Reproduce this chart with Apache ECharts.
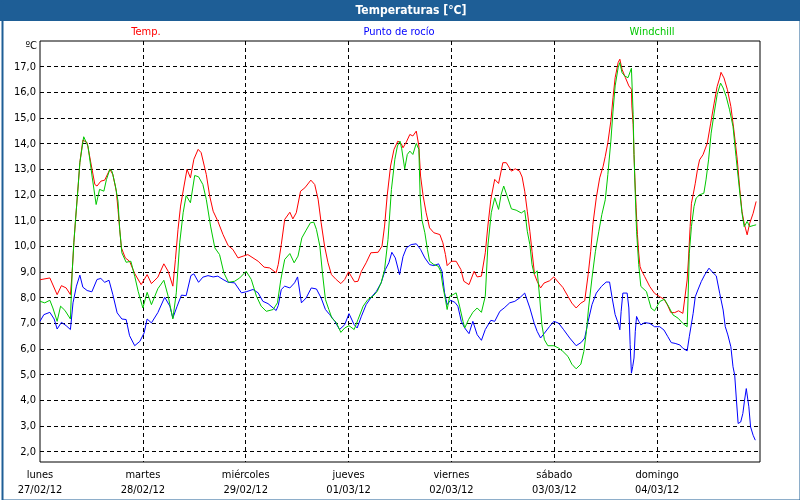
<!DOCTYPE html>
<html>
<head>
<meta charset="utf-8">
<script src="https://cdn.jsdelivr.net/npm/echarts@6/dist/echarts.min.js"></script>
<style>
html,body{margin:0;padding:0;background:#fff;}
#chart{width:800px;height:500px;}
</style>
</head>
<body>
<div id="chart"></div>
<script>
// Tick labels (day boundaries, every 24 h)
const dayLabels = [
  ['lunes', '27/02/12'],
  ['martes', '28/02/12'],
  ['miércoles', '29/02/12'],
  ['jueves', '01/03/12'],
  ['viernes', '02/03/12'],
  ['sábado', '03/03/12'],
  ['domingo', '04/03/12']
];
const seriesNames = ['Temp.', 'Punto de rocío', 'Windchill'];

// [hours since 27/02/12 00:00, °C]
const temp = [
  [0,8.7],[2.3,8.77],[4.0,8.12],[5.0,8.47],[6.1,8.38],[7.1,8.12],[7.5,8.97],[7.9,10.14],[8.3,11.05],[8.9,12.35],
  [9.3,13.26],[10.0,14.14],[11.0,14.04],[12.0,13.13],[12.8,12.41],[13.3,12.35],[14.2,12.54],[15.1,12.58],[16.3,13.0],[17.0,12.8],
  [17.8,12.15],[18.2,11.44],[18.6,10.66],[19.0,9.94],[19.9,9.55],[20.9,9.42],[22.1,8.94],[23.6,8.51],[25.0,8.9],[26.0,8.55],
  [27.5,8.8],[28.9,9.32],[29.9,9.03],[31.0,8.45],[31.6,9.49],[32.2,10.66],[32.8,11.57],[33.6,12.35],[34.3,13.0],[35.1,12.67],
  [35.9,13.39],[36.9,13.78],[37.6,13.65],[38.8,12.8],[39.6,11.96],[40.4,11.37],[41.5,10.98],[42.7,10.46],[43.9,10.03],[45.0,9.88],
  [46.2,9.55],[47.4,9.62],[48.5,9.68],[49.7,9.55],[50.9,9.42],[52.3,9.19],[53.6,9.16],[55.1,8.97],[55.6,9.3],[56.3,10.07],
  [57.1,11.05],[58.3,11.33],[59.0,11.07],[59.8,11.31],[60.8,12.15],[61.8,12.28],[63.2,12.58],[64.1,12.41],[64.9,11.83],[65.6,10.92],
  [66.4,10.01],[67.2,9.36],[68.0,8.9],[69.1,8.71],[70.2,8.55],[71.1,8.71],[72.0,9.01],[72.6,8.84],[73.4,8.62],[74.2,8.64],
  [75.0,9.03],[76.1,9.36],[77.2,9.75],[78.9,9.77],[79.8,10.01],[80.4,10.79],[81.0,11.96],[81.8,13.13],[82.6,13.78],[83.5,14.1],
  [84.3,14.0],[84.7,13.84],[85.5,14.07],[86.3,14.36],[87.0,14.3],[87.8,14.49],[88.4,13.91],[88.8,12.74],[89.4,11.96],[90.1,11.31],
  [90.9,10.72],[91.9,10.53],[93.3,10.46],[94.0,10.14],[94.6,9.68],[95.0,9.25],[96.0,9.42],[97.1,9.42],[98.2,9.1],[98.9,8.64],
  [100.1,8.51],[101.3,9.03],[102.0,8.81],[103.0,8.84],[103.9,9.75],[104.5,10.79],[105.2,11.83],[106.1,12.61],[107.0,12.45],[108.0,13.26],
  [108.8,13.26],[110.0,12.93],[110.9,13.02],[111.9,12.93],[112.5,12.7],[113.1,12.15],[113.7,11.37],[114.3,10.59],[114.8,9.81],[115.4,8.9],
  [116.0,8.64],[116.8,8.38],[117.6,8.57],[118.9,8.66],[119.9,8.81],[120.9,8.61],[122.0,8.4],[123.2,8.05],[124.1,7.79],[125.1,7.6],
  [126.2,7.79],[127.1,7.88],[127.9,8.9],[128.5,9.81],[129.0,10.85],[129.8,11.89],[130.6,12.67],[131.4,13.12],[131.9,13.51],[132.5,14.04],
  [133.2,14.88],[133.7,15.79],[134.2,16.57],[134.9,17.16],[135.3,17.29],[135.8,16.9],[136.6,16.57],[137.4,16.25],[138.0,16.12],[138.1,15.47],
  [138.4,14.75],[138.6,13.58],[138.8,12.67],[139.1,11.5],[139.4,10.46],[139.7,9.74],[140.0,9.22],[140.3,9.08],[141.1,8.82],[142.3,8.43],
  [143.4,8.17],[144.6,8.04],[145.6,7.94],[146.4,7.72],[147.2,7.42],[148.1,7.42],[149.0,7.49],[150.0,7.39],[150.4,7.91],[151.0,8.69],
  [151.3,9.47],[151.7,10.77],[152.0,11.68],[152.4,12.01],[152.9,12.46],[153.4,12.98],[153.9,13.37],[154.7,13.57],[155.7,14.02],[156.5,14.8],
  [157.3,15.58],[158.0,16.23],[158.6,16.56],[158.9,16.78],[159.6,16.56],[160.4,16.1],[161.2,15.45],[161.9,14.54],[162.7,13.37],[163.3,12.2],
  [163.8,11.36],[164.3,10.9],[164.6,10.71],[165.0,10.45],[165.6,10.9],[166.4,11.29],[167.1,11.75]
];

const dewPoint = [
  [0,7.08],[0.9,7.34],[2.3,7.43],[3.3,7.17],[4.0,6.78],[5.0,7.04],[6.1,6.91],[7.1,6.76],[7.7,7.8],[8.5,8.45],
  [9.3,8.88],[10.0,8.41],[11.0,8.28],[12.1,8.23],[13.3,8.71],[14.2,8.75],[15.1,8.6],[16.1,8.68],[17.0,8.12],[18.0,7.41],
  [19.1,7.17],[20.1,7.15],[20.9,6.52],[22.1,6.13],[23.3,6.3],[24.3,6.63],[25.0,7.17],[26.0,7.02],[27.5,7.42],[29.1,8.02],
  [30.3,7.67],[31.0,7.21],[32.0,7.67],[33.0,8.1],[34.1,8.08],[35.2,8.86],[35.9,8.93],[37.0,8.6],[38.0,8.8],[39.2,8.86],
  [40.4,8.81],[41.5,8.84],[42.7,8.71],[43.9,8.6],[45.4,8.58],[47.0,8.19],[48.1,8.23],[49.7,8.32],[50.9,8.19],[52.0,7.86],
  [53.2,7.77],[54.4,7.6],[55.1,7.5],[55.6,7.7],[56.3,8.32],[57.1,8.45],[58.3,8.38],[59.4,8.58],[60.1,8.81],[61.0,7.8],
  [62.1,7.99],[63.3,8.38],[64.5,8.34],[65.6,7.99],[66.6,7.54],[67.6,7.34],[68.8,7.08],[69.9,6.76],[71.1,6.95],[72.1,7.38],
  [73.3,6.95],[74.0,6.82],[75.0,7.28],[76.1,7.73],[77.3,8.02],[78.5,8.25],[79.6,8.58],[80.6,9.1],[81.4,9.36],[82.1,9.77],
  [82.9,9.55],[83.9,8.9],[84.7,9.6],[85.5,9.94],[86.6,10.07],[87.8,10.1],[88.8,9.88],[89.8,9.55],[90.9,9.29],[91.9,9.25],
  [93.0,9.32],[93.8,9.03],[94.4,8.19],[95.0,7.73],[95.8,7.9],[96.8,7.82],[97.5,7.67],[98.3,7.08],[99.1,6.82],[100.1,6.6],
  [101.0,7.08],[102.0,6.56],[103.0,6.34],[103.9,6.76],[105.2,7.12],[106.1,7.08],[107.3,7.47],[108.3,7.6],[109.6,7.8],[110.8,7.86],
  [111.9,7.99],[113.1,8.18],[114.3,7.6],[115.3,7.01],[116.0,6.69],[116.8,6.43],[117.7,6.62],[118.9,6.88],[119.9,7.08],[121.0,7.01],
  [122.2,6.75],[123.6,6.43],[125.1,6.13],[126.3,6.26],[127.1,6.43],[127.9,7.08],[128.8,7.73],[129.8,8.18],[131.0,8.44],[132.1,8.61],
  [132.9,8.61],[133.5,7.99],[134.2,7.34],[134.9,7.01],[135.3,6.75],[135.6,7.47],[136.0,8.18],[137.0,8.18],[137.4,7.6],[137.7,6.17],
  [138.0,5.06],[138.3,5.32],[138.6,5.65],[138.9,6.69],[139.2,7.27],[139.7,7.08],[140.2,6.94],[141.1,7.03],[142.3,7.0],[143.4,6.87],
  [144.6,6.87],[145.6,6.74],[146.5,6.48],[147.3,6.25],[148.2,6.22],[149.3,6.16],[150.0,6.03],[151.0,5.93],[151.5,6.48],[152.4,7.39],
  [152.9,8.04],[153.5,8.3],[154.3,8.63],[155.1,8.89],[156.1,9.15],[157.0,8.98],[157.8,8.85],[158.6,8.17],[159.4,7.52],[159.9,6.87],
  [160.5,6.55],[161.2,6.09],[161.7,5.31],[162.1,4.98],[162.5,4.01],[162.9,3.1],[163.5,3.16],[164.0,3.49],[164.4,4.01],[164.8,4.46],
  [165.2,4.46],[165.4,3.75],[165.8,2.97],[166.4,2.64],[166.9,2.45]
];

const windchill = [
  [0,7.86],[1.1,7.8],[2.3,7.9],[3.0,7.6],[4.0,7.08],[4.8,7.67],[5.8,7.51],[7.1,7.17],[7.5,8.97],[7.9,10.14],
  [8.3,11.05],[8.9,12.35],[9.3,13.26],[10.2,14.27],[11.2,13.9],[12.2,12.67],[13.1,11.63],[13.9,12.22],[14.9,12.15],[15.5,12.6],
  [16.3,13.0],[16.8,12.93],[17.6,12.35],[18.2,11.76],[18.6,10.66],[19.1,9.75],[20.1,9.38],[21.2,9.42],[22.1,8.84],[22.9,8.25],
  [24.0,7.6],[25.0,8.21],[26.0,7.73],[27.5,8.35],[28.9,8.68],[29.9,8.06],[31.0,7.17],[31.8,8.19],[32.6,10.14],[33.4,11.31],
  [34.1,11.98],[35.1,11.7],[36.1,12.76],[37.0,12.71],[38.0,12.41],[38.8,11.83],[39.8,10.79],[40.8,9.94],[41.9,9.68],[42.9,8.97],
  [44.0,8.6],[45.4,8.64],[46.6,8.77],[48.1,9.03],[49.3,8.71],[50.5,8.06],[51.6,7.67],[52.8,7.47],[54.4,7.54],[55.4,7.8],
  [56.2,8.71],[57.1,9.49],[58.3,9.72],[59.3,9.36],[60.2,9.62],[61.1,10.33],[62.1,10.63],[63.1,10.92],[63.9,10.94],[64.5,10.66],
  [65.3,10.01],[65.9,8.97],[66.6,7.93],[67.4,7.54],[68.1,7.21],[69.1,7.04],[70.2,6.65],[71.1,6.82],[72.1,6.91],[73.3,6.76],
  [74.2,7.15],[75.4,7.67],[76.5,7.93],[77.7,8.06],[78.7,8.25],[79.6,8.58],[80.4,9.1],[81.2,10.27],[82.0,12.22],[82.8,13.39],
  [83.4,13.91],[84.0,14.1],[84.4,13.8],[85.1,13.02],[85.7,13.58],[86.3,13.71],[87.0,13.58],[87.8,14.01],[88.4,13.78],[88.7,11.96],
  [89.1,11.05],[89.8,10.53],[90.4,9.88],[90.9,9.42],[91.9,9.29],[92.9,9.23],[93.5,9.03],[94.0,8.45],[94.6,7.93],[95.0,7.54],
  [95.6,8.06],[96.4,8.12],[97.1,8.19],[97.9,7.67],[98.7,7.08],[99.1,6.82],[100.0,7.15],[101.0,7.43],[102.0,7.6],[103.0,7.43],
  [103.9,8.06],[104.5,10.01],[105.3,11.31],[106.1,11.89],[107.0,11.44],[107.6,12.02],[108.2,12.35],[109.0,11.96],[110.0,11.46],[111.1,11.41],
  [112.3,11.3],[113.1,11.4],[113.7,10.59],[114.3,10.07],[114.8,9.29],[115.3,8.92],[116.0,9.05],[116.6,7.99],[117.1,6.95],[117.7,6.36],
  [118.5,6.13],[119.9,6.13],[121.0,6.04],[122.0,5.91],[123.2,5.71],[124.1,5.41],[125.1,5.23],[126.2,5.41],[126.9,5.91],[127.5,6.69],
  [128.0,7.6],[128.8,8.77],[129.6,9.81],[130.4,10.59],[131.1,11.24],[131.9,11.82],[132.5,12.8],[133.2,14.1],[133.7,15.27],[134.2,16.25],
  [134.9,16.96],[135.3,17.16],[135.8,16.77],[136.4,16.64],[137.2,16.57],[138.0,16.94],[138.4,15.14],[138.6,13.58],[138.9,12.02],[139.2,10.59],
  [139.7,9.29],[140.2,8.44],[141.5,8.24],[142.6,7.59],[143.4,7.49],[144.6,7.85],[145.7,7.94],[146.7,7.65],[147.7,7.33],[148.9,7.2],
  [150.0,7.0],[151.0,6.87],[151.2,7.91],[151.5,9.73],[152.0,10.77],[152.6,11.55],[153.1,11.88],[153.9,12.01],[154.9,12.07],[155.4,12.59],
  [156.0,13.37],[156.6,14.41],[157.3,15.19],[158.0,15.91],[158.8,16.36],[159.4,16.17],[160.1,15.84],[160.9,15.32],[161.7,14.67],[162.4,13.5],
  [163.3,12.07],[163.8,11.29],[164.3,10.77],[164.5,10.84],[165.0,10.97],[165.6,10.77],[166.4,10.81],[167.1,10.84]
];

const FONT = '"DejaVu Sans Condensed", "DejaVu Sans", "Liberation Sans", sans-serif';
const FRAME = '#1e5e96';

const chart = echarts.init(document.getElementById('chart'), null, {renderer: 'canvas'});
chart.setOption({
  animation: false,
  backgroundColor: '#ffffff',
  textStyle: {fontFamily: FONT},
  grid: {
    left: 40, right: 40, top: 41, bottom: 38,
    show: true, borderColor: '#000', borderWidth: 1, backgroundColor: '#fff'
  },
  xAxis: {
    type: 'value',
    min: 0, max: 168, interval: 24,
    axisLine: {show: false},
    axisTick: {show: false},
    splitLine: {show: true, showMinLine: false, showMaxLine: false,
      lineStyle: {color: '#000', width: 1, type: [4, 3]}},
    axisLabel: {
      color: '#000', fontSize: 11, fontFamily: FONT, lineHeight: 15, margin: 6,
      showMinLabel: true, showMaxLabel: true,
      formatter: function (v) {
        const i = Math.round(v / 24);
        return dayLabels[i] ? dayLabels[i].join('\n') : '';
      }
    }
  },
  yAxis: {
    type: 'value',
    min: 1.6, max: 18,
    splitNumber: 16, minInterval: 1, maxInterval: 1,
    axisLine: {show: false},
    axisTick: {show: false},
    splitLine: {show: true, showMinLine: false, showMaxLine: false,
      lineStyle: {color: '#000', width: 1, type: [4, 3]}},
    axisLabel: {
      color: '#000', fontSize: 11, fontFamily: FONT, margin: 4,
      formatter: function (v) {
        const r = Math.round(v);
        if (Math.abs(v - r) > 1e-6 || r >= 18) return '';
        return r.toFixed(1).replace('.', ',');
      }
    }
  },
  series: [
    {name: seriesNames[0], type: 'line', data: temp, showSymbol: false, color: '#ff0000',
     lineStyle: {width: 1, color: '#ff0000'}, z: 2},
    {name: seriesNames[1], type: 'line', data: dewPoint, showSymbol: false, color: '#0000ff',
     lineStyle: {width: 1, color: '#0000ff'}, z: 3},
    {name: seriesNames[2], type: 'line', data: windchill, showSymbol: false, color: '#00c800',
     lineStyle: {width: 1, color: '#00c800'}, z: 4}
  ],
  graphic: [
    {type: 'rect', left: 0, top: 0, shape: {width: 800, height: 21}, style: {fill: FRAME}, z: 10},
    {type: 'rect', left: 0, top: 0, shape: {x: 1, y: 1, width: 798, height: 498},
     style: {fill: 'none', stroke: FRAME, lineWidth: 2}, z: 10, silent: true},
    {type: 'text', x: 411, y: 11, z: 11,
     style: {text: 'Temperaturas [°C]', fill: '#fff', font: 'bold 12px ' + FONT,
       textAlign: 'center', textVerticalAlign: 'middle'}},
    {type: 'text', x: 146, y: 32, z: 11,
     style: {text: seriesNames[0], fill: '#ff0000', font: '11px ' + FONT,
       textAlign: 'center', textVerticalAlign: 'middle'}},
    {type: 'text', x: 399, y: 32, z: 11,
     style: {text: seriesNames[1], fill: '#0000ff', font: '11px ' + FONT,
       textAlign: 'center', textVerticalAlign: 'middle'}},
    {type: 'text', x: 652, y: 32, z: 11,
     style: {text: seriesNames[2], fill: '#00c800', font: '11px ' + FONT,
       textAlign: 'center', textVerticalAlign: 'middle'}},
    {type: 'text', x: 37, y: 46, z: 11,
     style: {text: 'ºC', fill: '#000', font: '11px ' + FONT,
       textAlign: 'right', textVerticalAlign: 'middle'}}
  ]
});
</script>
</body>
</html>
